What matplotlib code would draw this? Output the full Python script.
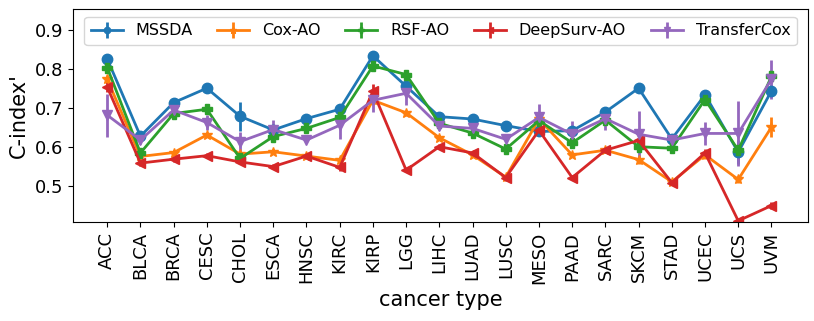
import numpy as np
import matplotlib
matplotlib.use('Agg')
import matplotlib.pyplot as plt

# cancer types on the x axis
cancers = ['ACC', 'BLCA', 'BRCA', 'CESC', 'CHOL', 'ESCA', 'HNSC', 'KIRC', 'KIRP', 'LGG',
           'LIHC', 'LUAD', 'LUSC', 'MESO', 'PAAD', 'SARC', 'SKCM', 'STAD', 'UCEC', 'UCS', 'UVM']

# C-index' means
mssda = [0.826, 0.628, 0.714, 0.751, 0.679, 0.644, 0.673, 0.697, 0.834, 0.756,
         0.678, 0.672, 0.655, 0.640, 0.642, 0.690, 0.751, 0.621, 0.734, 0.587, 0.744]
cox_ao = [0.774, 0.576, 0.586, 0.631, 0.582, 0.588, 0.577, 0.566, 0.720, 0.688,
          0.624, 0.580, 0.523, 0.672, 0.580, 0.592, 0.568, 0.511, 0.580, 0.517, 0.651]
rsf_ao = [0.804, 0.585, 0.686, 0.697, 0.571, 0.627, 0.648, 0.676, 0.808, 0.786,
          0.661, 0.636, 0.595, 0.668, 0.611, 0.669, 0.601, 0.597, 0.722, 0.592, 0.781]
deepsurv_ao = [0.754, 0.559, 0.569, 0.578, 0.562, 0.550, 0.577, 0.548, 0.743, 0.541,
               0.601, 0.585, 0.522, 0.643, 0.522, 0.592, 0.617, 0.509, 0.585, 0.411, 0.450]
transfercox = [0.682, 0.618, 0.695, 0.663, 0.614, 0.645, 0.618, 0.656, 0.720, 0.738,
               0.654, 0.648, 0.620, 0.676, 0.633, 0.673, 0.633, 0.618, 0.635, 0.635, 0.774]

# error bar half-widths
mssda_err = [0.008, 0.008, 0.012, 0.006, 0.037, 0.006, 0.005, 0.006, 0.008, 0.010,
             0.006, 0.005, 0.005, 0.006, 0.006, 0.008, 0.006, 0.005, 0.008, 0.030, 0.015]
cox_err = [0.010, 0.008, 0.006, 0.006, 0.008, 0.006, 0.006, 0.008, 0.010, 0.008,
           0.006, 0.006, 0.006, 0.010, 0.006, 0.006, 0.012, 0.008, 0.010, 0.010, 0.025]
rsf_err = [0.010, 0.010, 0.010, 0.008, 0.008, 0.006, 0.006, 0.008, 0.010, 0.008,
           0.006, 0.008, 0.008, 0.006, 0.008, 0.008, 0.008, 0.006, 0.008, 0.010, 0.012]
deepsurv_err = [0.012, 0.008, 0.006, 0.006, 0.006, 0.006, 0.006, 0.008, 0.020, 0.006,
                0.006, 0.006, 0.008, 0.006, 0.006, 0.006, 0.008, 0.006, 0.010, 0.006, 0.008]
transfercox_err = [0.055, 0.010, 0.010, 0.020, 0.025, 0.025, 0.008, 0.035, 0.030, 0.030,
                   0.010, 0.010, 0.008, 0.035, 0.035, 0.030, 0.060, 0.010, 0.030, 0.083, 0.050]

x = np.arange(len(cancers))

fig = plt.figure(figsize=(8.14, 3.21), dpi=100)
ax = fig.add_axes([0.0897, 0.3084, 0.9029, 0.6636])

series = [
    ('MSSDA', mssda, mssda_err, 'o', '#1f77b4'),
    ('Cox-AO', cox_ao, cox_err, '*', '#ff7f0e'),
    ('RSF-AO', rsf_ao, rsf_err, 'P', '#2ca02c'),
    ('DeepSurv-AO', deepsurv_ao, deepsurv_err, '<', '#d62728'),
    ('TransferCox', transfercox, transfercox_err, 'v', '#9467bd'),
]
for name, vals, err, mk, col in series:
    ax.errorbar(x, vals, yerr=err, marker=mk, color=col, label=name,
                linewidth=2, markersize=7.5, elinewidth=2)

ax.set_xticks(x)
ax.set_xticklabels(cancers, rotation=90, fontsize=13)
ax.tick_params(axis='y', labelsize=13)
ax.set_yticks([0.5, 0.6, 0.7, 0.8, 0.9])
ax.set_xlim(-1.03, 21.1)
ax.set_ylim(0.408, 0.954)
ax.set_xlabel('cancer type', fontsize=15)
ax.set_ylabel("C-index'", fontsize=15)
ax.legend(loc='upper center', ncol=5, fontsize=11.5, markerscale=0.6,
          columnspacing=1.55)

plt.savefig('out.png', dpi=100)
